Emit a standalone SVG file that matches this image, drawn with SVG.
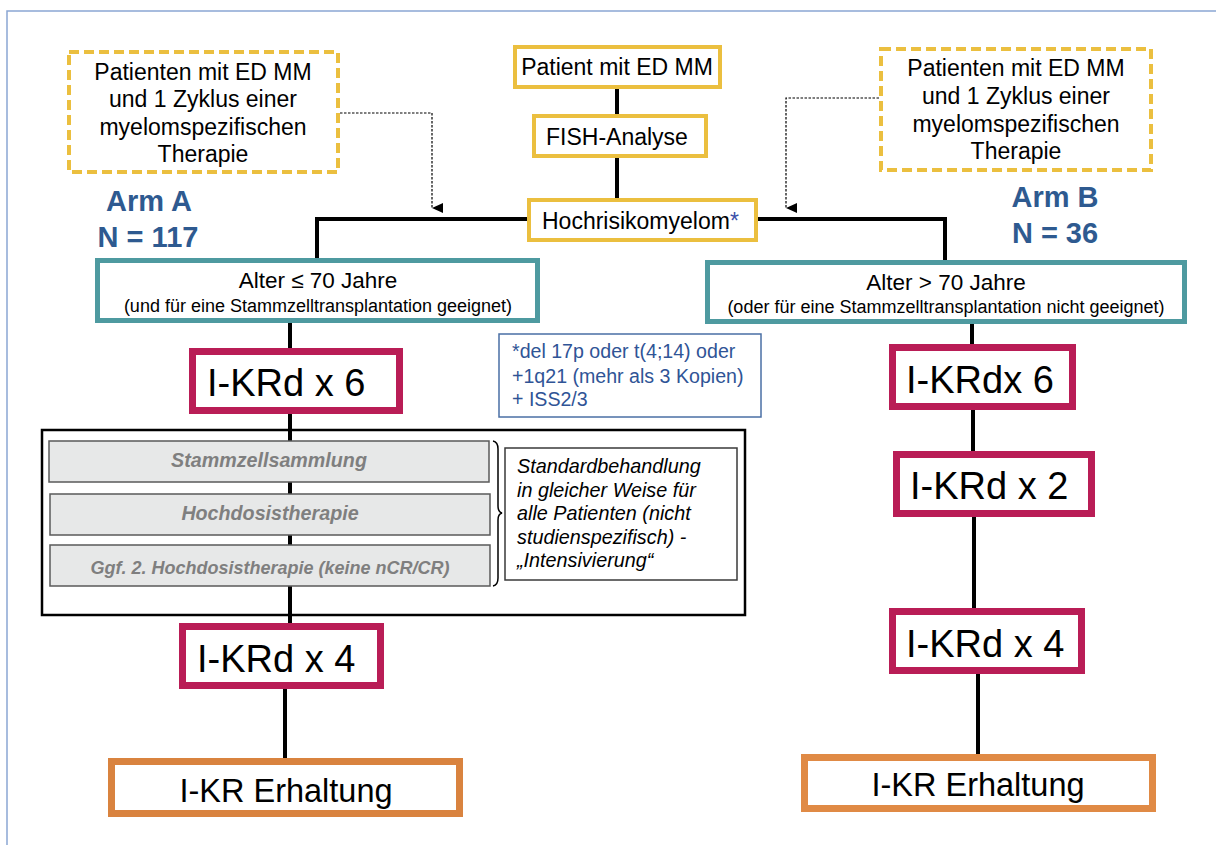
<svg xmlns="http://www.w3.org/2000/svg" width="1216" height="845" viewBox="0 0 1216 845">
<defs>
<style>
text{font-family:"Liberation Sans",Arial,sans-serif;fill:#000}
.y{fill:#fff;stroke:#ebbf3f;stroke-width:4}
.yd{fill:#fff;stroke:#ebbf3f;stroke-width:4;stroke-dasharray:10 5}
.t{fill:#fff;stroke:#4e9aa0;stroke-width:5}
.m{fill:#fff;stroke:#b91d56;stroke-width:7}
.o{fill:#fff;stroke:#d9833f;stroke-width:7}
.g{fill:#e7e8e8;stroke:#5a5a5a;stroke-width:1.5}
.gt{font-weight:bold;font-style:italic;fill:#7f7f7f;font-size:19.7px}
.ln{fill:none;stroke:#000;stroke-width:4}
.dl{fill:none;stroke:#000;stroke-width:1.2;stroke-dasharray:2.5 1.5}
.arm{font-weight:bold;fill:#2e5a90;font-size:29px}
.f23{font-size:23px}
.f38{font-size:38px}
.f18{font-size:18px}
.fn{fill:#2f5496;font-size:19.6px}
.it{font-style:italic;font-size:19.8px}
</style>
<marker id="ah" markerUnits="userSpaceOnUse" markerWidth="10" markerHeight="11" refX="4.5" refY="10" orient="auto" viewBox="0 0 9 10">
<path d="M0 0 L9 0 L4.5 10 Z" fill="#000"/>
</marker>
</defs>
<rect x="7" y="11" width="1300" height="900" fill="none" stroke="#8aa6d3" stroke-width="1.5"/>

<g id="standard-box">
<rect x="42" y="430" width="703" height="185" fill="#fff" stroke="#000" stroke-width="2.5"/>
</g>

<g id="connectors">
<path class="ln" d="M617 87 V116"/>
<path class="ln" d="M617 156 V200"/>
<path class="ln" d="M529 219 H317 V260"/>
<path class="ln" d="M756 219 H945 V262"/>
<path class="ln" d="M290 323 V352"/>
<path class="ln" d="M290 411 V627"/>
<path class="ln" d="M285 686 V762"/>
<path class="ln" d="M972 324 V348"/>
<path class="ln" d="M973 407 V455"/>
<path class="ln" d="M974 514 V612"/>
<path class="ln" d="M978 671 V758"/>
<path class="dl" d="M340 113 H432 V208" marker-end="url(#ah)"/>
<path class="dl" d="M879 98 H786 V208" marker-end="url(#ah)"/>
<path d="M493 441 Q498 442 498 449 V506 Q498 512 502 513 Q498 514 498 520 V578 Q498 585 493 586" fill="none" stroke="#000" stroke-width="1.5"/>
</g>

<g id="left-source">
<rect class="yd" x="69" y="52" width="269" height="120"/>
<text class="f23" text-anchor="middle" x="203" y="80">Patienten mit ED MM</text>
<text class="f23" text-anchor="middle" x="203" y="107">und 1 Zyklus einer</text>
<text class="f23" text-anchor="middle" x="203" y="135">myelomspezifischen</text>
<text class="f23" text-anchor="middle" x="203" y="162">Therapie</text>
</g>

<g id="right-source">
<rect class="yd" x="881" y="49" width="270" height="121"/>
<text class="f23" text-anchor="middle" x="1016" y="76">Patienten mit ED MM</text>
<text class="f23" text-anchor="middle" x="1016" y="104">und 1 Zyklus einer</text>
<text class="f23" text-anchor="middle" x="1016" y="132">myelomspezifischen</text>
<text class="f23" text-anchor="middle" x="1016" y="159">Therapie</text>
</g>

<g id="arm-a-label">
<text class="arm" text-anchor="middle" x="149" y="211">Arm A</text>
<text class="arm" text-anchor="middle" x="148" y="247">N = 117</text>
</g>
<g id="arm-b-label">
<text class="arm" text-anchor="middle" x="1055" y="207">Arm B</text>
<text class="arm" text-anchor="middle" x="1055" y="243">N = 36</text>
</g>

<g id="patient">
<rect class="y" x="515" y="47" width="205" height="40"/>
<text class="f23" text-anchor="middle" x="617" y="75">Patient mit ED MM</text>
</g>
<g id="fish">
<rect class="y" x="534" y="116" width="172" height="40"/>
<text class="f23" x="546" y="145">FISH-Analyse</text>
</g>
<g id="hochrisiko">
<rect class="y" x="529" y="200" width="227" height="40"/>
<text class="f23" x="542" y="229">Hochrisikomyelom<tspan fill="#3d4fa8">*</tspan></text>
</g>

<g id="alter-left">
<rect class="t" x="97.5" y="260.5" width="440" height="60"/>
<text class="f23" text-anchor="middle" x="318" y="288" style="font-size:22.5px">Alter ≤ 70 Jahre</text>
<text class="f18" text-anchor="middle" x="318" y="312">(und für eine Stammzelltransplantation geeignet)</text>
</g>
<g id="alter-right">
<rect class="t" x="707.5" y="262.5" width="477" height="59"/>
<text class="f23" text-anchor="middle" x="946" y="290" style="font-size:22.5px">Alter &gt; 70 Jahre</text>
<text class="f18" text-anchor="middle" x="946" y="313">(oder für eine Stammzelltransplantation nicht geeignet)</text>
</g>

<g id="footnote">
<rect x="499" y="334" width="262" height="83" fill="#fff" stroke="#4a6fa5" stroke-width="1.5"/>
<text class="fn" x="512" y="358">*del 17p oder t(4;14) oder</text>
<text class="fn" x="512" y="383">+1q21 (mehr als 3 Kopien)</text>
<text class="fn" x="512" y="406">+ ISS2/3</text>
</g>

<g id="a-ikrd6">
<rect class="m" x="192.5" y="351.5" width="207" height="59"/>
<text class="f38" x="207" y="396">I-KRd x 6</text>
</g>

<g id="stammzell">
<rect class="g" x="49" y="441" width="440" height="41"/>
<text class="gt" text-anchor="middle" x="269" y="467">Stammzellsammlung</text>
</g>
<g id="hochdosis">
<rect class="g" x="50" y="494" width="440" height="41"/>
<text class="gt" text-anchor="middle" x="270" y="520">Hochdosistherapie</text>
</g>
<g id="hochdosis2">
<rect class="g" x="50" y="545" width="440" height="41"/>
<text class="gt" text-anchor="middle" x="270" y="574" style="font-size:18px">Ggf. 2. Hochdosistherapie (keine nCR/CR)</text>
</g>

<g id="standard-note">
<rect x="505" y="448" width="232" height="132" fill="#fff" stroke="#3a3a3a" stroke-width="1.5"/>
<text class="it" x="517" y="473">Standardbehandlung</text>
<text class="it" x="517" y="497">in gleicher Weise für</text>
<text class="it" x="517" y="520">alle Patienten (nicht</text>
<text class="it" x="517" y="544">studienspezifisch) -</text>
<text class="it" x="517" y="567">„Intensivierung“</text>
</g>

<g id="a-ikrd4">
<rect class="m" x="182.5" y="626.5" width="198" height="59"/>
<text class="f38" x="197" y="672">I-KRd x 4</text>
</g>
<g id="a-erhaltung">
<rect class="o" x="111.5" y="761.5" width="348" height="52"/>
<text text-anchor="middle" x="286" y="802" style="font-size:32.5px">I-KR Erhaltung</text>
</g>

<g id="b-ikrd6">
<rect class="m" x="892.5" y="347.5" width="180" height="59"/>
<text class="f38" x="906" y="393">I-KRdx 6</text>
</g>
<g id="b-ikrd2">
<rect class="m" x="896.5" y="454.5" width="195" height="59"/>
<text class="f38" x="910" y="499">I-KRd x 2</text>
</g>
<g id="b-ikrd4">
<rect class="m" x="892.5" y="611.5" width="189" height="59"/>
<text class="f38" x="906" y="657">I-KRd x 4</text>
</g>
<g id="b-erhaltung">
<rect class="o" x="804.5" y="757.5" width="348" height="51" style="stroke:#e08a45"/>
<text text-anchor="middle" x="978" y="796" style="font-size:32.5px">I-KR Erhaltung</text>
</g>
</svg>
